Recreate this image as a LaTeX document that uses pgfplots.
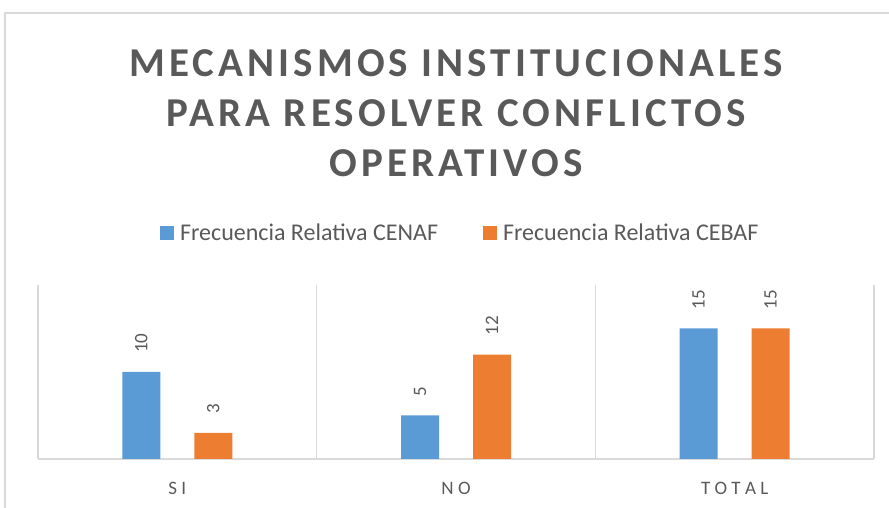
\documentclass[border=0pt]{standalone}
\usepackage{fontspec}
\setmainfont{Carlito}
\usepackage{pgfplots}
\pgfplotsset{compat=1.18}
\definecolor{cblue}{HTML}{5B9BD5}
\definecolor{corange}{HTML}{ED7D31}
\definecolor{tgray}{HTML}{595959}
\definecolor{lgray}{HTML}{D9D9D9}
\begin{document}
\begin{tikzpicture}[x=1bp,y=1bp]
\useasboundingbox (0,0) rectangle (889,508);
\draw[lgray, line width=1.5bp] (5,0) -- (5,495) -- (889,495);
\node[text=tgray, align=center, font=\fontsize{41bp}{50bp}\selectfont\bfseries\addfontfeatures{LetterSpace=10}] at (456,395) {MECANISMOS INSTITUCIONALES\\PARA RESOLVER CONFLICTOS\\OPERATIVOS};
\begin{axis}[
  at={(38bp,49bp)}, anchor=south west, scale only axis,
  width=836bp, height=174bp,
  xmin=-0.5, xmax=2.5, ymin=0, ymax=20,
  /pgf/number format/assume math mode=true,
  axis y line=none, axis x line*=bottom,
  axis line style={-, lgray, line width=1.5bp},
  xtick={0,1,2}, xticklabels={S I, N O, T O T A L},
  major tick length=0pt, minor tick length=0pt,
  minor xtick={-0.5,0.5,1.5,2.5}, xminorgrids,
  minor grid style={lgray, line width=1.2bp},
  xticklabel style={font=\fontsize{19bp}{22bp}\selectfont, text=tgray, anchor=center, yshift=-29bp},
  ybar=34bp, bar width=38bp,
  nodes near coords,
  every node near coord/.append style={font=\fontsize{19bp}{22bp}\selectfont, text=tgray, yshift=19bp, rotate=90, anchor=west, inner sep=0pt},
  legend style={at={(0.505,1.299)}, anchor=center, draw=none, fill=none, font=\fontsize{24bp}{27bp}\selectfont, text=tgray, inner sep=0pt},
  legend columns=2,
  legend image code/.code={\fill[#1] (0bp,-7bp) rectangle (14bp,7bp);},
  /tikz/every odd column/.append style={column sep=4bp},
  /tikz/every even column/.append style={column sep=43bp},
]
\addplot[fill=cblue, draw=none] coordinates {(0,10) (1,5) (2,15)};
\addplot[fill=corange, draw=none] coordinates {(0,3) (1,12) (2,15)};
\legend{Frecuencia Relativa CENAF, Frecuencia Relativa CEBAF}
\end{axis}
\end{tikzpicture}
\end{document}
